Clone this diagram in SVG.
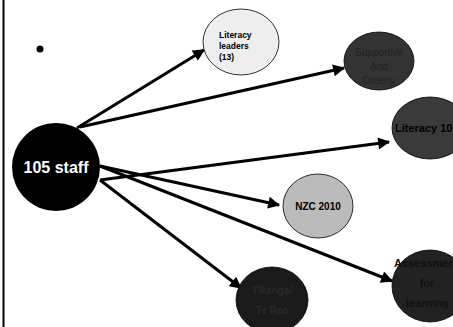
<svg xmlns="http://www.w3.org/2000/svg" width="453" height="327" viewBox="0 0 453 327">
<style>
text{font-family:"Liberation Sans",Arial,sans-serif;font-weight:bold}
.node{stroke:#000;stroke-width:0.8}
.conn line{stroke:#000;stroke-width:3;marker-end:url(#ah)}
</style>
<defs>
<marker id="ah" viewBox="0 0 10 10" refX="9" refY="5" markerWidth="4.5" markerHeight="4" orient="auto" markerUnits="strokeWidth">
<path d="M0,0 L10,5 L0,10 z" fill="#000"/>
</marker>
</defs>
<rect width="453" height="327" fill="#fff"/>
<line x1="3.5" y1="0" x2="3.5" y2="327" stroke="#000" stroke-width="2"/>
<circle cx="40" cy="49" r="3.5" fill="#000"/>
<g id="connectors" class="conn">
<line x1="77" y1="128" x2="204" y2="50"/>
<line x1="80" y1="127" x2="344" y2="68"/>
<line x1="100" y1="180" x2="389" y2="142"/>
<line x1="100" y1="166" x2="279" y2="205"/>
<line x1="100" y1="166" x2="392" y2="281"/>
<line x1="100" y1="180" x2="241" y2="288"/>
</g>
<g id="staff">
<circle cx="56" cy="167" r="44" fill="#000"/>
<text x="56" y="173" font-size="16" fill="#fff" text-anchor="middle">105 staff</text>
</g>
<g id="literacy-leaders">
<ellipse class="node" cx="241" cy="42" rx="38" ry="33" fill="#eeeeee"/>
<text font-size="8.5" fill="#000"><tspan x="219" y="38">Literacy</tspan><tspan x="219" y="49">leaders</tspan><tspan x="219" y="60">(13)</tspan></text>
</g>
<g id="supportive">
<ellipse class="node" cx="379" cy="61" rx="35" ry="29" fill="#333333"/>
<text font-size="10" fill="#222" text-anchor="middle" style="font-weight:normal"><tspan x="379" y="56">Supportive</tspan><tspan x="379" y="70">And</tspan><tspan x="379" y="84">Orderly</tspan></text>
</g>
<g id="literacy101">
<ellipse class="node" cx="430" cy="128" rx="38" ry="31" fill="#3a3a3a"/>
<text x="395" y="132" font-size="11" fill="#000">Literacy 101</text>
</g>
<g id="nzc">
<ellipse class="node" cx="318" cy="206" rx="35" ry="32" fill="#bbbbbb"/>
<text x="318" y="210" font-size="10" fill="#000" text-anchor="middle">NZC 2010</text>
</g>
<g id="assessment">
<ellipse class="node" cx="430" cy="286" rx="38" ry="36" fill="#222222"/>
<text font-size="11" fill="#111"><tspan x="394" y="267">Assessment</tspan><tspan x="427" y="287" text-anchor="middle">for</tspan><tspan x="406" y="307">learning</tspan></text>
</g>
<g id="tikanga">
<ellipse class="node" cx="272" cy="300" rx="36" ry="33" fill="#1a1a1a"/>
<text font-size="10" fill="#2a2a2a" text-anchor="middle"><tspan x="272" y="294">Tikanga/</tspan><tspan x="272" y="314">Te Reo</tspan></text>
</g>
</svg>
